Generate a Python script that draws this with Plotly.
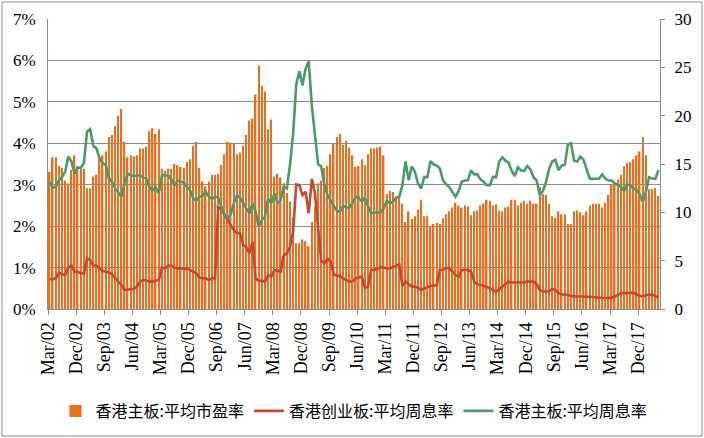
import plotly.graph_objects as go

# Monthly observations, Mar 2002 .. Jun 2018
start_year, start_month, n_months = 2002, 3, 196
months = []
for k in range(n_months):
    m = start_month - 1 + k
    months.append(f"{start_year + m // 12}-{m % 12 + 1:02d}")

tick_labels = ["Mar/02", "Dec/02", "Sep/03", "Jun/04", "Mar/05", "Dec/05", "Sep/06",
               "Jun/07", "Mar/08", "Dec/08", "Sep/09", "Jun/10", "Mar/11", "Dec/11",
               "Sep/12", "Jun/13", "Mar/14", "Dec/14", "Sep/15", "Jun/16", "Mar/17", "Dec/17"]
tick_months = ["2002-03", "2002-12", "2003-09", "2004-06", "2005-03", "2005-12", "2006-09",
               "2007-06", "2008-03", "2008-12", "2009-09", "2010-06", "2011-03", "2011-12",
               "2012-09", "2013-06", "2014-03", "2014-12", "2015-09", "2016-06", "2017-03", "2017-12"]

# 香港主板:平均市盈率 (right axis)
main_pe = [
    14.2, 15.7, 15.7, 14.8, 14.6, 13.3, 13.0, 14.4, 15.9, 14.8, 14.8, 14.5, 12.5, 12.5, 13.7, 13.9,
    15.6, 15.9, 16.3, 17.8, 18.0, 18.9, 20.0, 20.7, 17.3, 15.7, 15.9, 15.8, 15.9, 16.6, 16.6, 16.8, 18.4,
    18.7, 18.1, 18.6, 14.5, 14.3, 14.5, 14.5, 15.0, 14.9, 14.7, 14.6, 15.2, 15.5, 16.9, 17.3, 14.6,
    13.2, 12.7, 13.2, 13.9, 13.9, 14.0, 14.9, 16.0, 17.3, 17.2, 17.1, 16.0, 16.2, 16.9, 18.0, 19.5, 19.7,
    22.2, 25.2, 23.1, 22.5, 18.6, 19.6, 13.7, 14.0, 13.6, 13.0, 12.0, 11.1, 9.5, 6.8, 6.8, 7.2,
    7.0, 6.5, 9.0, 10.6, 13.0, 13.3, 14.6, 14.8, 16.0, 17.1, 17.8, 18.1, 17.0, 17.4, 16.7, 15.9,
    14.7, 14.8, 15.5, 14.9, 16.0, 16.6, 16.6, 16.7, 16.8, 15.9, 11.9, 12.2, 12.1, 11.6, 11.5, 10.9, 9.0,
    10.1, 9.3, 9.6, 10.3, 11.3, 9.6, 9.6, 8.6, 8.8, 8.9, 8.8, 9.4, 9.8, 10.1, 10.5, 11.0, 10.7,
    10.5, 10.7, 10.6, 9.7, 10.1, 10.2, 10.7, 10.9, 11.3, 11.2, 10.7, 10.8, 10.2, 10.1, 10.5, 10.6, 11.3,
    11.3, 10.7, 11.0, 11.2, 10.9, 11.2, 10.9, 10.9, 12.6, 11.9, 11.8, 10.9, 9.6, 9.4, 10.1, 9.8,
    9.8, 8.8, 8.8, 10.1, 10.2, 10.0, 9.7, 10.1, 10.7, 10.9, 10.9, 10.9, 10.5, 11.0, 11.8, 12.9,
    12.9, 13.4, 13.9, 14.8, 15.1, 15.2, 15.5, 15.9, 16.3, 17.8, 15.9, 12.4, 12.4, 12.5, 11.7,
]

# 香港创业板:平均周息率 (%, left axis)
gem_yield = [
    0.72, 0.72, 0.74, 0.88, 0.84, 0.82, 1.00, 1.05, 0.90, 0.90, 0.86, 0.86, 1.22, 1.18, 1.05, 1.05,
    0.98, 0.92, 0.90, 0.88, 0.84, 0.74, 0.66, 0.58, 0.46, 0.47, 0.47, 0.48, 0.54, 0.66, 0.70, 0.69, 0.66,
    0.66, 0.68, 0.70, 1.00, 0.98, 1.05, 1.05, 1.00, 0.98, 0.98, 0.97, 0.98, 0.94, 0.88, 0.86, 0.76,
    0.74, 0.74, 0.70, 0.74, 0.74, 2.45, 2.43, 2.27, 2.15, 2.03, 1.91, 1.83, 1.83, 1.54, 1.50, 1.34, 1.62,
    0.74, 0.68, 0.68, 0.66, 0.82, 0.78, 0.94, 0.92, 0.90, 1.30, 1.34, 1.50, 1.87, 3.01, 2.99, 2.75,
    2.83, 2.31, 3.14, 2.79, 1.87, 1.16, 1.10, 1.21, 1.14, 0.84, 0.80, 0.80, 0.74, 0.70, 0.66, 0.66,
    0.74, 0.76, 0.78, 0.51, 0.54, 0.94, 0.94, 0.97, 1.01, 1.00, 0.98, 0.98, 1.01, 1.05, 1.08, 0.56, 0.66,
    0.60, 0.54, 0.54, 0.51, 0.46, 0.50, 0.54, 0.56, 0.56, 0.58, 0.94, 0.94, 1.00, 0.98, 0.90, 0.82, 0.78,
    0.94, 0.94, 0.94, 0.90, 0.66, 0.60, 0.58, 0.56, 0.54, 0.50, 0.46, 0.42, 0.48, 0.54, 0.60, 0.66, 0.64,
    0.64, 0.64, 0.64, 0.64, 0.66, 0.66, 0.66, 0.60, 0.46, 0.42, 0.42, 0.43, 0.48, 0.46, 0.38, 0.35,
    0.35, 0.34, 0.31, 0.30, 0.30, 0.30, 0.30, 0.30, 0.30, 0.29, 0.28, 0.27, 0.26, 0.26, 0.27, 0.27,
    0.30, 0.35, 0.38, 0.39, 0.38, 0.39, 0.39, 0.35, 0.32, 0.30, 0.34, 0.35, 0.35, 0.31, 0.27,
]

# 香港主板:平均周息率 (%, left axis)
main_yield = [
    3.07, 2.93, 2.95, 3.11, 3.19, 3.31, 3.68, 3.56, 3.27, 3.41, 3.41, 3.52, 4.28, 4.34, 3.94, 3.88,
    3.64, 3.52, 3.48, 3.15, 3.07, 2.91, 2.81, 2.71, 3.03, 3.27, 3.23, 3.21, 3.22, 3.23, 3.17, 3.15, 2.93,
    2.87, 2.93, 2.79, 3.23, 3.23, 3.22, 3.13, 2.98, 3.10, 3.07, 3.05, 2.95, 2.87, 2.67, 2.61, 2.71,
    2.73, 2.83, 2.71, 2.65, 2.71, 2.69, 2.47, 2.27, 2.19, 2.28, 2.55, 2.74, 2.69, 2.55, 2.43, 2.31, 2.55,
    2.35, 1.99, 2.15, 2.23, 2.67, 2.55, 2.79, 2.55, 2.63, 2.95, 2.91, 3.48, 4.22, 5.42, 5.74, 5.40,
    5.80, 5.98, 4.90, 4.20, 3.50, 3.44, 2.99, 2.75, 2.63, 2.49, 2.37, 2.35, 2.49, 2.45, 2.45, 2.55,
    2.71, 2.69, 2.59, 2.69, 2.47, 2.31, 2.33, 2.33, 2.33, 2.43, 2.61, 2.55, 2.59, 2.69, 2.71, 2.99, 3.56,
    3.11, 3.44, 3.31, 3.03, 2.91, 3.19, 3.18, 3.57, 3.49, 3.46, 3.39, 3.11, 3.01, 2.95, 2.82, 2.71, 2.85,
    3.07, 3.10, 3.11, 3.35, 3.25, 3.25, 3.13, 3.07, 2.99, 2.99, 3.19, 3.18, 3.56, 3.66, 3.58, 3.53, 3.33,
    3.21, 3.42, 3.34, 3.33, 3.45, 3.37, 3.18, 3.10, 2.75, 2.85, 3.07, 3.39, 3.56, 3.60, 3.35, 3.46,
    3.48, 3.97, 4.00, 3.58, 3.56, 3.68, 3.60, 3.35, 3.15, 3.14, 3.14, 3.15, 3.25, 3.15, 3.10, 3.10,
    3.03, 2.99, 2.95, 2.85, 3.01, 2.98, 2.91, 2.87, 2.77, 2.59, 2.83, 3.18, 3.15, 3.14, 3.35,
]

idx = list(range(len(months)))
tick_pos = [months.index(m) - 0.5 for m in tick_months]

ORANGE = "#EB6E1F"
RED = "#C9472A"
GREEN = "#4C9A68"
GRID = "#8C8C8C"
SERIF = "Liberation Serif"
CJK = "Noto Sans CJK SC"

fig = go.Figure()
fig.add_trace(go.Bar(x=idx, y=main_pe, name="香港主板:平均市盈率", yaxis="y",
                     marker=dict(color=ORANGE, line=dict(width=0))))
fig.add_trace(go.Scatter(x=idx, y=gem_yield, name="香港创业板:平均周息率", yaxis="y2",
                         mode="lines", line=dict(color=RED, width=2.6)))
fig.add_trace(go.Scatter(x=idx, y=main_yield, name="香港主板:平均周息率", yaxis="y2",
                         mode="lines", line=dict(color=GREEN, width=2.6)))

W, H = 704, 438
L, R, T, B = 48, 44, 19, 129
pw, ph = W - L - R, H - T - B

fig.update_layout(
    width=W, height=H,
    margin=dict(l=L, r=R, t=T, b=B, pad=0, autoexpand=False),
    paper_bgcolor="white", plot_bgcolor="white",
    bargap=0.52,
    showlegend=True,
    legend=dict(orientation="h", x=0.5, xanchor="center", y=(T + ph - 411) / ph,
                yanchor="middle", font=dict(family=CJK, size=16, color="black"),
                traceorder="normal", itemwidth=30, bgcolor="rgba(0,0,0,0)"),
    xaxis=dict(range=[-0.5, len(months) - 0.5], tickmode="array", tickvals=tick_pos,
               ticktext=tick_labels, tickangle=-90, ticks="outside", ticklen=5,
               tickcolor=GRID, showline=True, linecolor=GRID, linewidth=1,
               showgrid=False, zeroline=False, automargin=False,
               tickfont=dict(family=SERIF, size=18, color="black")),
    yaxis=dict(side="right", range=[0, 30], dtick=5, showgrid=False, zeroline=False,
               showline=True, linecolor=GRID, linewidth=1, ticks="outside", ticklen=4,
               tickcolor=GRID, ticklabelstandoff=6, automargin=False,
               tickfont=dict(family=SERIF, size=17, color="black")),
    yaxis2=dict(overlaying="y", side="left", range=[0, 7], dtick=1, ticksuffix="%",
                showgrid=True, gridcolor=GRID, gridwidth=1, zeroline=False,
                showline=True, linecolor=GRID, linewidth=1, ticks="",
                ticklabelstandoff=8, automargin=False,
                tickfont=dict(family=SERIF, size=17, color="black")),
    shapes=[dict(type="rect", xref="paper", yref="paper",
                 x0=(2 - L) / pw, x1=(702 - L) / pw,
                 y0=(T + ph - 436) / ph, y1=(T + ph - 2) / ph,
                 line=dict(color=GRID, width=1), fillcolor="rgba(0,0,0,0)", layer="below")],
)

fig.write_html("out.html",
               config={"displayModeBar": False},
               post_script="document.body.style.margin='0';document.body.style.padding='0';")
